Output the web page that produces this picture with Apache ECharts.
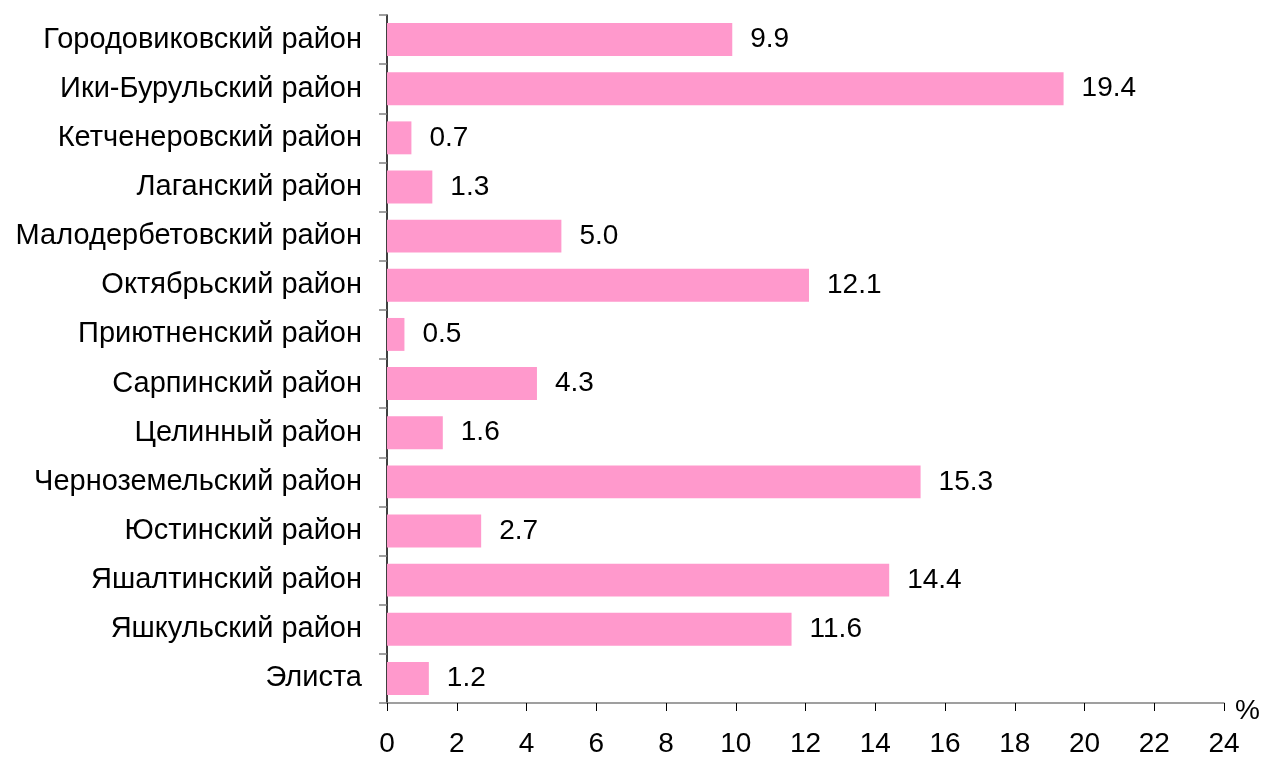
<!DOCTYPE html>
<html>
<head>
<meta charset="utf-8">
<script src="https://cdn.jsdelivr.net/npm/echarts@6/dist/echarts.min.js"></script>
<style>
  html, body { margin: 0; padding: 0; background: #fff; }
  #chart { width: 1263px; height: 758px; }
</style>
</head>
<body>
<div id="chart"></div>
<script>
const districts = [
    "Городовиковский район", "Ики-Бурульский район", "Кетченеровский район",
    "Лаганский район", "Малодербетовский район", "Октябрьский район",
    "Приютненский район", "Сарпинский район", "Целинный район",
    "Черноземельский район", "Юстинский район", "Яшалтинский район",
    "Яшкульский район", "Элиста"
];
const shares = [9.9, 19.4, 0.7, 1.3, 5.0, 12.1, 0.5, 4.3, 1.6, 15.3, 2.7, 14.4, 11.6, 1.2];

const font = "Liberation Sans, Arial, sans-serif";

const chart = echarts.init(document.getElementById("chart"));
chart.setOption({
    animation: false,
    grid: { left: 387, right: 39, top: 15, bottom: 55, containLabel: false },
    xAxis: {
        type: "value",
        min: 0,
        max: 24,
        interval: 2,
        name: "%",
        nameLocation: "end",
        nameGap: 11,
        nameTextStyle: { fontFamily: font, fontSize: 28, color: "#000", verticalAlign: "top", lineHeight: 16 },
        axisLine: { show: true, lineStyle: { color: "#808080", width: 1.5 } },
        axisTick: { show: true, inside: false, length: 8, lineStyle: { color: "#000" } },
        axisLabel: { fontFamily: font, fontSize: 28, color: "#000", margin: 27 },
        splitLine: { show: false }
    },
    yAxis: {
        type: "category",
        data: districts,
        inverse: true,
        axisLine: { show: true, lineStyle: { color: "#000", width: 1.5 } },
        axisTick: { show: true, length: 8, lineStyle: { color: "#808080", width: 1.5 } },
        axisLabel: { fontFamily: font, fontSize: 29, color: "#000", margin: 25 }
    },
    series: [{
        type: "bar",
        data: shares,
        barWidth: "67%",
        itemStyle: { color: "#FF99CC" },
        label: {
            show: true,
            position: "right",
            distance: 18,
            fontFamily: font,
            fontSize: 28,
            color: "#000",
            formatter: p => p.value.toFixed(1)
        }
    }]
});
</script>
</body>
</html>
